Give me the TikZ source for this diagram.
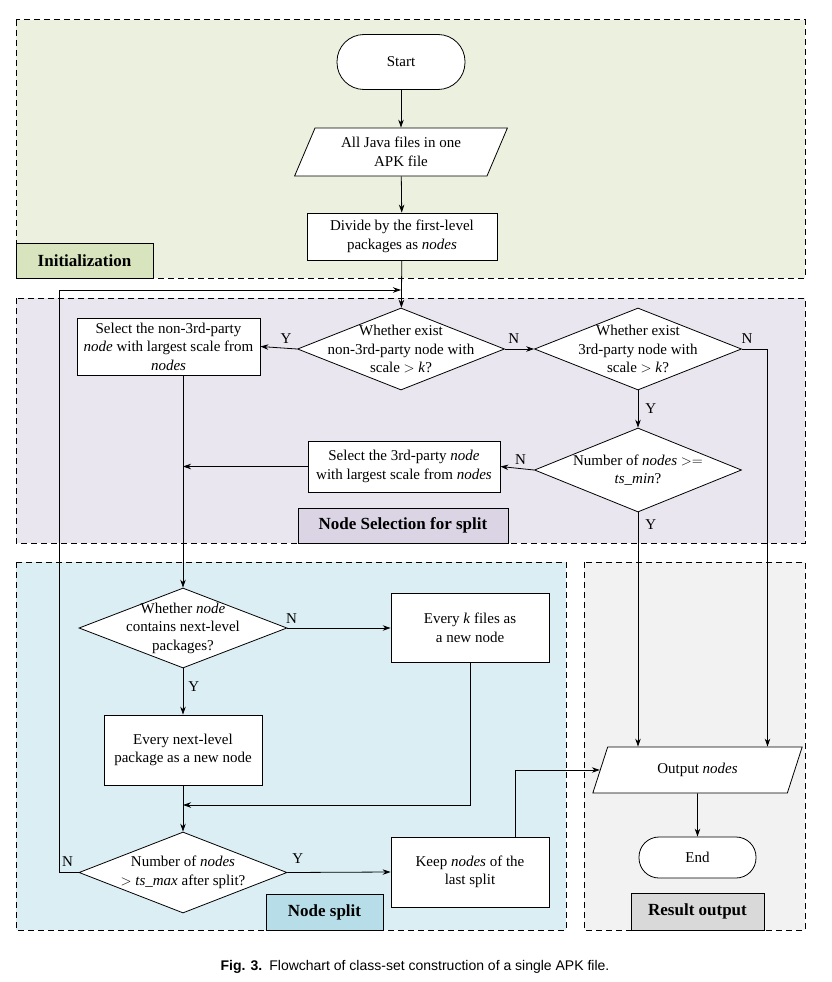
\documentclass[tikz,border=0pt]{standalone}
\usepackage{fontspec}
\setmainfont{Liberation Serif}
\setsansfont{Liberation Sans}
\usetikzlibrary{shapes.geometric}
\usetikzlibrary{arrows.meta}

\definecolor{initfill}{HTML}{EBF1DE}
\definecolor{initlab}{HTML}{D7E4BD}
\definecolor{selfill}{HTML}{EAE6EF}
\definecolor{sellab}{HTML}{DAD4E4}
\definecolor{splitfill}{HTML}{DBEEF4}
\definecolor{splitlab}{HTML}{B7DEE8}
\definecolor{outfill}{HTML}{F2F2F2}
\definecolor{outlab}{HTML}{D9D9D9}

\tikzset{
  zone/.style={draw, line width=1pt, dash pattern=on 6pt off 4pt},
  zonelabel/.style={draw, line width=0.8pt, font=\fontsize{17}{19}\selectfont\bfseries, inner sep=0pt},
  procbox/.style={draw, fill=white, line width=0.8pt, align=center, inner sep=0pt},
  decbox/.style={draw, fill=white, diamond, shape aspect=2.5, line width=0.8pt, align=center, inner sep=-14pt,
    minimum width=207pt, minimum height=82pt},
  iobox/.style={draw, fill=white, trapezium, trapezium stretches=true, line width=0.8pt,
    trapezium left angle=64, trapezium right angle=116, align=center, inner sep=0pt},
  termbox/.style={draw, fill=white, line width=0.8pt, inner sep=0pt},
  yn/.style={font=\fontsize{15}{17}\selectfont, inner sep=2pt},
}

\begin{document}
\begin{tikzpicture}[x=1pt, y=-1pt, >={Stealth[length=8pt,width=5.5pt]}, line width=0.8pt, font=\fontsize{15}{18.5}\selectfont]
        \useasboundingbox (0,0) rectangle (831,982);

        % Zones
        \draw[zone, fill=initfill] (16,20) rectangle (805,278);
        \draw[zone, fill=selfill] (16,298) rectangle (805,543);
        \draw[zone, fill=splitfill] (16,562) rectangle (566,930);
        \draw[zone, fill=outfill] (584,562) rectangle (805,930);
        \node[zonelabel, fill=initlab, minimum width=137pt, minimum height=35pt] (initlab) at (84.5,260.5) {Initialization};
        \node[zonelabel, fill=sellab, minimum width=210pt, minimum height=35pt] (sellab) at (403,525.5) {Node Selection for split};
        \node[zonelabel, fill=splitlab, minimum width=117pt, minimum height=36pt] (splitlab) at (324.5,912) {Node split};
        \node[zonelabel, fill=outlab, minimum width=133pt, minimum height=37pt] (outlab) at (697.5,911.5) {Result output};

        % Initialization
        \node[termbox, rounded corners=27pt, minimum width=128pt, minimum height=55pt] (start) at (401,62) {Start};
        \node[iobox, minimum width=213pt, minimum height=48pt] (apk) at (401,152) {All Java files in one\\APK file};
        \node[procbox, minimum width=190pt, minimum height=47pt] (divide) at (402,236.5) {Divide by the first-level\\packages as \textit{nodes}};
        \coordinate (join) at (401,290);

        % Node selection
        \node[decbox] (nonthird) at (401,349) {Whether exist\\non-3rd-party node with\\scale $>$ \textit{k}?};
        \node[decbox] (third) at (638,349) {Whether exist\\3rd-party node with\\scale $>$ \textit{k}?};
        \node[procbox, minimum width=183pt, minimum height=57pt] (selnon) at (168.5,346.5) {Select the non-3rd-party\\\textit{node} with largest scale from\\\textit{nodes}};
        \node[decbox, minimum height=84pt] (tsmin) at (638,470) {Number of \textit{nodes} $>=$\\\textit{ts\_min}?};
        \node[procbox, minimum width=192pt, minimum height=51pt] (selthird) at (404,466.5) {Select the 3rd-party \textit{node}\\with largest scale from \textit{nodes}};

        % Node split
        \node[decbox, minimum width=208pt, minimum height=80pt] (nextlvl) at (183,628) {Whether \textit{node}\\contains next-level\\packages?};
        \node[procbox, minimum width=158pt, minimum height=69pt] (kfiles) at (470,628) {Every \textit{k} files as\\a new node};
        \node[procbox, minimum width=158pt, minimum height=70pt] (newnode) at (183,750) {Every next-level\\package as a new node};
        \coordinate (merge) at (183,805);
        \node[decbox, minimum width=208pt, minimum height=81pt] (tsmax) at (183,872.5) {Number of \textit{nodes}\\$>$ \textit{ts\_max} after split?};
        \node[procbox, minimum width=158pt, minimum height=70pt] (keep) at (470,872) {Keep \textit{nodes} of the\\last split};

        % Result output
        \node[iobox, minimum width=211pt, minimum height=46pt] (out) at (697.5,770) {Output \textit{nodes}};
        \node[termbox, rounded corners=20pt, minimum width=117pt, minimum height=41pt] (end) at (697.5,857.5) {End};

        % Connectors
        \draw[->] (start) -- (apk);
        \draw[->] (apk) -- (divide);
        \draw[->] (divide) -- (nonthird);
        \draw[->] (tsmax.west) -- ++(-19,0) node[yn, above right, yshift=4pt] (nmax) {N} |- (join);
        \draw[->] (nonthird.west) -- (selnon.east) node[yn, pos=0.3, above, yshift=2pt] (ynon) {Y};
        \draw[->] (nonthird.east) -- (third.west) node[yn, pos=0.3, above, yshift=3pt] (nnon) {N};
        \draw[->] (third.east) -| ([xshift=70pt]out.north) node[yn, pos=0.1, above, yshift=3pt] (nthird) {N};
        \draw[->] (third.south) -- (tsmin.north) node[yn, midway, right=5pt] (ythird) {Y};
        \draw[->] (tsmin.west) -- (selthird.east) node[yn, pos=0.4, above, yshift=2pt] (nmin) {N};
        \draw[->] (tsmin.south) -- (tsmin.south |- out.north) node[yn, pos=0.05, right=5pt] (ymin) {Y};
        \draw[->] (selthird.west) -- (selthird.west -| nextlvl.north);
        \draw[->] (selnon.south -| nextlvl.north) -- (nextlvl.north);
        \draw[->] (nextlvl.east) -- (kfiles.west) node[yn, pos=0.04, above, yshift=2pt] (nlvl) {N};
        \draw[->] (nextlvl.south) -- (newnode.north) node[yn, pos=0.4, right=3pt] (ylvl) {Y};
        \draw[->] (kfiles.south) |- (merge);
        \draw[->] (newnode.south) -- (tsmax.north);
        \draw[->] (tsmax.east) -- (keep.west) node[yn, pos=0.1, above=7pt] (ymax) {Y};
        \draw[->] ([xshift=45pt]keep.north) |- (out.west);
        \draw[->] (out.south) -- (end.north);

        % Caption
        \node[font=\fontsize{14}{16}\selectfont\sffamily] (caption) at (415,967) {\textbf{Fig. 3.}\enspace Flowchart of class-set construction of a single APK file.};
\end{tikzpicture}
\end{document}
